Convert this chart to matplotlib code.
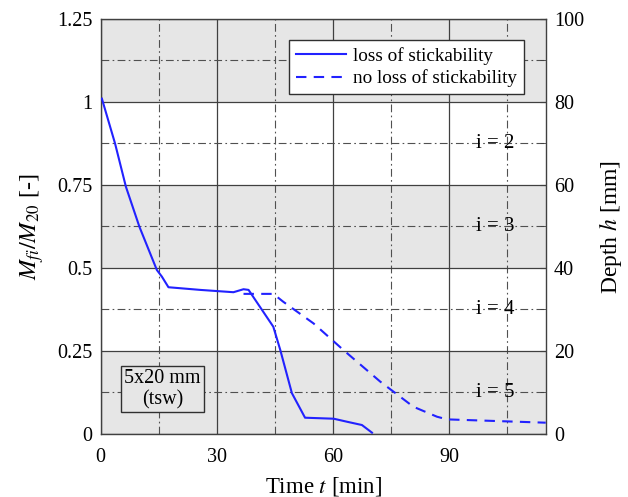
import matplotlib
matplotlib.use("Agg")
import matplotlib.pyplot as plt

plt.rcParams['font.family'] = ['Liberation Serif', 'DejaVu Serif']
plt.rcParams['mathtext.fontset'] = 'stix'

# loss of stickability (solid)
t_loss = [0.3, 3.7, 6.5, 10.0, 14.5, 15.8, 17.5, 25.7, 34.3, 36.9, 38.2, 44.6, 46.4, 49.4, 52.8, 60.2, 63.6, 67.5, 70.1]
m_loss = [1.01, 0.875, 0.745, 0.624, 0.494, 0.474, 0.442, 0.434, 0.427, 0.436, 0.434, 0.323, 0.253, 0.123, 0.049, 0.046, 0.037, 0.027, 0.004]

# no loss of stickability (dashed)
t_noloss = [36.9, 44.6, 47.2, 55.0, 62.7, 72.2, 80.8, 86.9, 89.5, 115.0]
m_noloss = [0.422, 0.422, 0.398, 0.333, 0.253, 0.158, 0.082, 0.052, 0.044, 0.034]

# layer labels on the right
layer_names = ['i = 2', 'i = 3', 'i = 4', 'i = 5']
layer_y = [0.875, 0.625, 0.375, 0.125]

gray_bands = [(0.0, 0.25), (0.5, 0.75), (1.0, 1.25)]

fig = plt.figure(figsize=(6.28, 4.97), dpi=100)
ax = fig.add_axes([0.1604, 0.1268, 0.7086, 0.835])

for lo, hi in gray_bands:
    ax.axhspan(lo, hi, color='#e6e6e6', zorder=0, lw=0)

ax.set_xlim(0, 115)
ax.set_ylim(0, 1.25)
ax.set_xticks([0, 30, 60, 90])
ax.set_xticks([15, 45, 75, 105], minor=True)
ax.set_yticks([0, 0.25, 0.5, 0.75, 1.0, 1.25])
ax.set_yticklabels(['0', '0.25', '0.5', '0.75', '1', '1.25'])
ax.set_yticks([0.125, 0.375, 0.625, 0.875, 1.125], minor=True)
ax.grid(which='major', color='#404040', lw=0.9, ls='-', zorder=1)
ax.grid(which='minor', color='#505050', lw=0.8, ls=(0, (7, 3, 1.5, 3)), zorder=1)
ax.tick_params(which='both', direction='in', length=0, labelsize=14.5)
ax.tick_params(axis='x', pad=10)
ax.tick_params(axis='y', pad=6)
for s in ax.spines.values():
    s.set_color('#404040')
    s.set_linewidth(1.0)

ax.plot(t_loss, m_loss, color='#2222ff', lw=1.5, label='loss of stickability', zorder=3)
ax.plot(t_noloss, m_noloss, color='#2222ff', lw=1.5, ls=(0, (5, 3.5)),
        label='no loss of stickability', zorder=3)

for name, yy in zip(layer_names, layer_y):
    ax.text(102, yy, name, ha='center', va='center', fontsize=15, zorder=4)

ax.text(16, 0.135, '5x20 mm\n(tsw)', ha='center', va='center', fontsize=14.5,
        linespacing=1.1, zorder=4,
        bbox=dict(boxstyle='square,pad=0.15', fc='#e6e6e6', ec='#303030', lw=1.0))

leg = ax.legend(loc='upper right', bbox_to_anchor=(0.951, 0.949), fontsize=13.8,
                frameon=True, fancybox=False, borderaxespad=0, handlelength=2.6,
                handletextpad=0.4, borderpad=0.35, labelspacing=0.25)
leg.get_frame().set_edgecolor('#303030')
leg.get_frame().set_linewidth(1.0)
leg.get_frame().set_alpha(1)

ax.set_xlabel('Time $t$ [min]', fontsize=16.5, labelpad=6)
ax.set_ylabel(r'$M_{fi}/M_{\mathit{20}}$ [-]', fontsize=17.5, labelpad=8)

ax2 = ax.twinx()
ax2.set_ylim(0, 100)
ax2.set_yticks([0, 20, 40, 60, 80, 100])
ax2.set_yticks([10, 30, 50, 70, 90], minor=True)
ax2.tick_params(which='both', direction='in', length=4, labelsize=14.5, color='#404040', pad=6)
ax2.set_ylabel('Depth $h$ [mm]', fontsize=17, labelpad=9)
for s in ax2.spines.values():
    s.set_visible(False)

fig.savefig('out.png', dpi=100)
